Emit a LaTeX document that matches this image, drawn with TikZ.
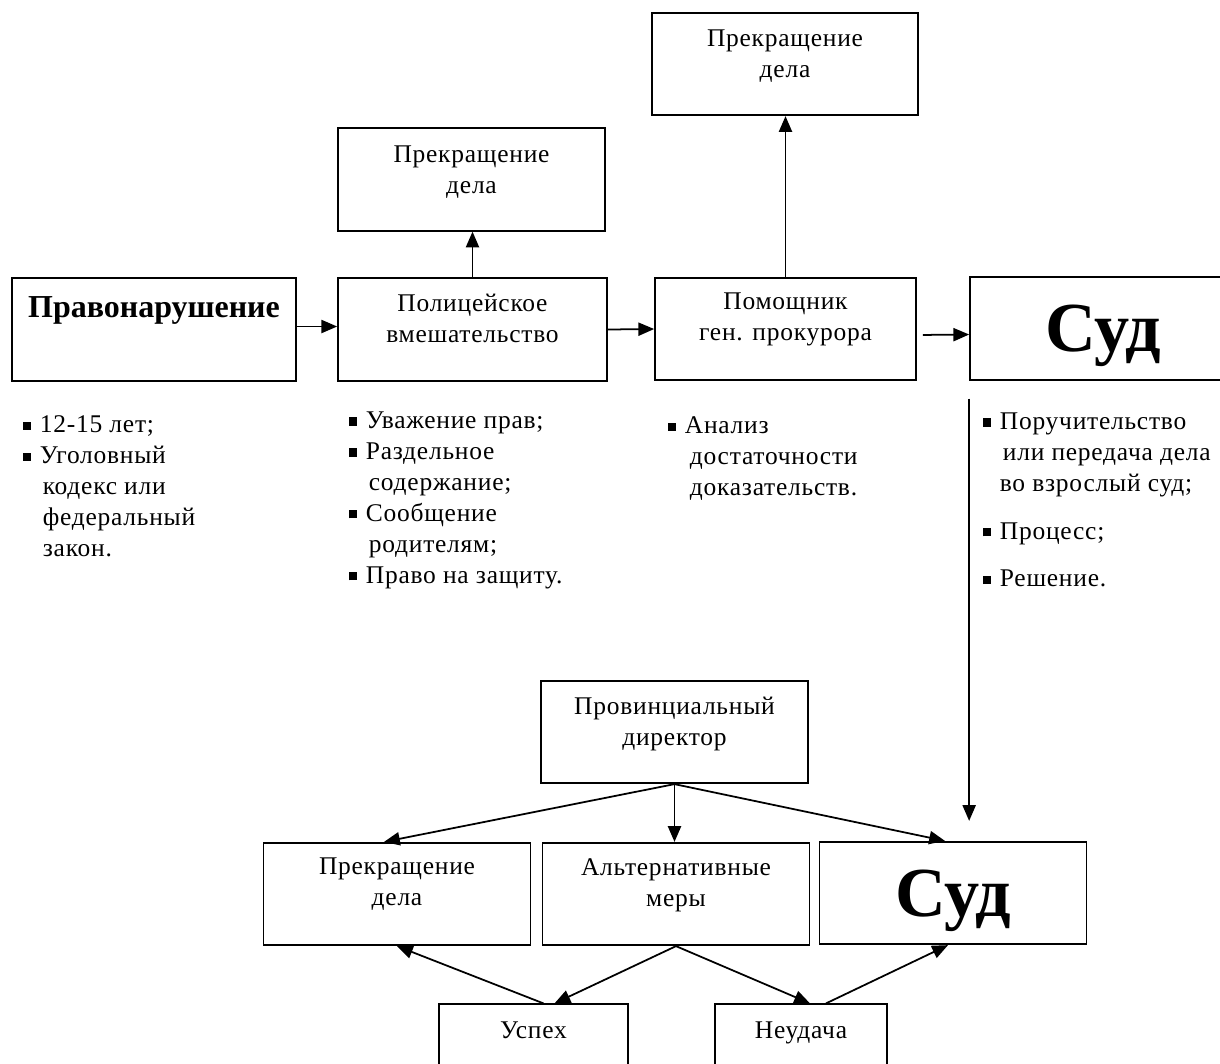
\documentclass[tikz,border=0pt]{standalone}
\usepackage{fontspec}
\setmainfont{Liberation Serif}[LetterSpace=3]
\newfontfamily\headfont{Liberation Serif}
\usetikzlibrary{arrows.meta,positioning}

% square bullet and hanging indent for the lists
\newcommand{\itm}{\makebox[0.34cm][l]{\rule[0.25ex]{0.7ex}{0.7ex}}}
\newcommand{\cnt}{\hspace*{0.4cm}}
\newcommand{\sud}{\headfont\bfseries\fontsize{40}{40}\selectfont}

\begin{document}
\begin{tikzpicture}[->, >={Triangle[length=9pt,width=7.5pt]}, x=0.02cm, y=-0.02cm, line width=1pt, font=\fontsize{14.5}{17.6}\selectfont]

		\useasboundingbox (0,0) rectangle (1220,1063);
		\clip (0,0) rectangle (1220,1063);

		\tikzstyle{box}=[draw, rectangle, minimum width=5.34cm, minimum height=2.05cm, inner sep=0pt]
		\tikzstyle{txt}=[align=center, inner sep=0pt]
		\tikzstyle{list}=[align=left, inner sep=0pt, anchor=north west]

		% Upper row
		\node[box, minimum width=5.68cm] (offence)    at (154, 329.5)  {};
		\node[box, minimum width=5.38cm] (police)     at (472.5, 329.5) {};
		\node[box]                       (stopA)      at (471.5, 179.5) {};
		\node[box, minimum width=5.32cm] (stopB)      at (785, 64)      {};
		\node[box, minimum width=5.22cm] (prosecutor) at (785.5, 329)   {};
		\node[box, font=\sud, text depth=0pt] (courtA) at (1103.5, 328.5) {Суд};

		\node[txt, below=0.36cm of offence.north, font=\headfont\bfseries\fontsize{18.2}{22}\selectfont] (offenceT) {Правонарушение};
		\node[txt, below=0.31cm of police.north]     (policeT) {Полицейское\\вмешательство};
		\node[txt, below=0.36cm of stopA.north]      (stopAT)  {Прекращение\\дела};
		\node[txt, below=0.34cm of stopB.north]      (stopBT)  {Прекращение\\дела};
		\node[txt, below=0.31cm of prosecutor.north] (prosecutorT) {Помощник\\ген. прокурора};

		% Lists under the boxes
		\node[list] (offenceL) at (22, 415) {\itm 12-15 лет;\\ \itm Уголовный\\ \cnt кодекс или\\ \cnt федеральный\\ \cnt закон.};
		\node[list] (policeL) at (348, 411) {\itm Уважение прав;\\ \itm Раздельное\\ \cnt содержание;\\ \itm Сообщение\\ \cnt родителям;\\ \itm Право на защиту.};
		\node[list] (prosecutorL) at (667, 416) {\itm Анализ\\ \hspace*{0.44cm}достаточности\\ \hspace*{0.44cm}доказательств.};
		\node[list] (courtL) at (982, 412) {\itm Поручительство\\ \cnt или передача дела\\ \hspace*{0.34cm}во взрослый суд;\\[9.6pt] \itm Процесс;\\[9.6pt] \itm Решение.};

		% Lower part
		\node[box] (director) at (674.5, 732) {};
		\node[box] (stopC)    at (397, 894)   {};
		\node[box] (alt)      at (676, 894)   {};
		\node[box, font=\sud, text depth=0pt] (courtB) at (953, 893) {Суд};
		\node[box, minimum width=3.78cm] (success) at (533.5, 1055.5) {};
		\node[box, minimum width=3.44cm] (failure) at (801, 1055.5)   {};

		\node[txt, below=0.33cm of director.north] (directorT) {Провинциальный\\директор};
		\node[txt, below=0.31cm of stopC.north]    (stopCT)    {Прекращение\\дела};
		\node[txt, below=0.31cm of alt.north]      (altT)      {Альтернативные\\меры};
		\node[txt, below=0.35cm of success.north]  (successT)  {Успех};
		\node[txt, below=0.35cm of failure.north]  (failureT)  {Неудача};

		% Connectors
		\draw ([yshift=0.06cm]offence.east) -- ([yshift=0.06cm]police.west);
		\draw (police.east) -- (prosecutor.west);
		\draw[shorten <=0.12cm] ([yshift=-0.12cm]prosecutor.east) -- ([yshift=-0.12cm]courtA.west);
		\draw (police.north) -- (police.north |- stopA.south);
		\draw (prosecutor.north) -- (prosecutor.north |- stopB.south);
		\draw[shorten <=0.36cm, shorten >=0.4cm] (courtA.south west) -- (courtA.south west |- courtB.north);

		\draw (director.south) -- (director.south |- alt.north);
		\draw (director.south) -- ([xshift=-0.26cm]stopC.north);
		\draw (director.south) -- ([xshift=-0.16cm]courtB.north);
		\draw (alt.south) -- ([xshift=0.42cm]success.north);
		\draw (alt.south) -- ([xshift=0.18cm]failure.north);
		\draw ([xshift=0.2cm]success.north) -- (stopC.south);
		\draw ([xshift=0.5cm]failure.north) -- ([xshift=-0.1cm]courtB.south);

\end{tikzpicture}
\end{document}
